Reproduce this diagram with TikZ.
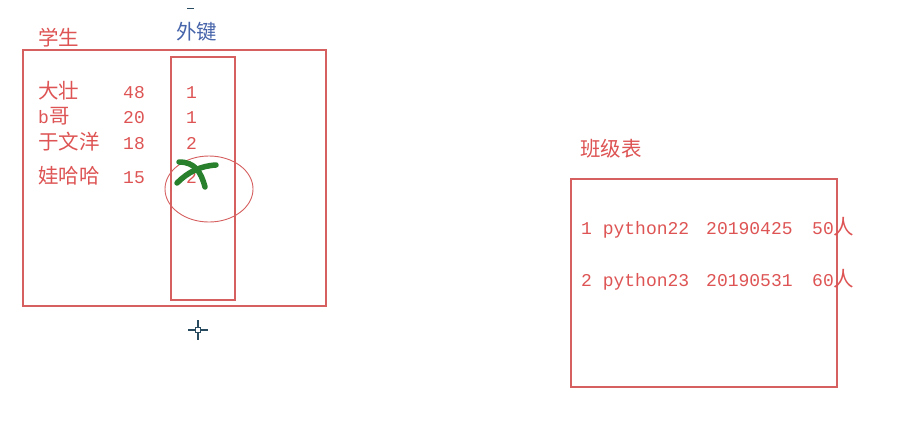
\documentclass[tikz,border=0pt]{standalone}
\usepackage{fontspec}
\setmainfont{Liberation Mono}
\newfontfamily\cjk{Noto Sans CJK SC}
\definecolor{boxred}{RGB}{214,96,96}
\definecolor{txtred}{RGB}{222,84,84}
\definecolor{fkblue}{RGB}{70,100,170}
\definecolor{xgreen}{RGB}{40,128,45}
\definecolor{cursor}{RGB}{40,75,95}
\begin{document}
\begin{tikzpicture}[x=1pt,y=-1pt,
  frame/.style={draw=boxred,line width=1.2pt},
  lbl/.style={anchor=base west,inner sep=0pt,text=txtred,font=\fontsize{18}{20}\selectfont},
  cj/.style={lbl,font=\fontsize{20.5}{22}\selectfont\cjk}]
\useasboundingbox[fill=white] (0,0) rectangle (920,424);
% student table
\draw[frame] (23,50) rectangle (326,306);
\draw[frame] (171,57) rectangle (235,300);
\node[cj] (ttl1) at (38,45) {学生};
\node[cj,text=fkblue] (fk) at (176,39) {外键};
\draw[cursor,line width=1pt] (187,8) -- (194,8);
\node[cj] (n1) at (38,98) {大壮};
\node[lbl] (a1) at (123,98) {48};
\node[lbl] (f1) at (186,98) {1};
\node[lbl] (n2) at (38,123) {b{\cjk\fontsize{20.5}{22}\selectfont 哥}};
\node[lbl] (a2) at (123,123) {20};
\node[lbl] (f2) at (186,123) {1};
\node[cj] (n3) at (38,149) {于文洋};
\node[lbl] (a3) at (123,149) {18};
\node[lbl] (f3) at (186,149) {2};
\node[cj] (n4) at (38,183) {娃哈哈};
\node[lbl] (a4) at (123,183) {15};
\node[lbl] (f4) at (186,183) {2};
\draw[boxred,line width=0.9pt] (209,189) ellipse [x radius=44, y radius=33];
\draw[xgreen,line width=5.5pt,line cap=round] (179,162) .. controls (195,162) and (201,172) .. (205,187);
\draw[xgreen,line width=5.5pt,line cap=round] (216,165) .. controls (200,166) and (188,172) .. (177,183);
% cursor
\draw[cursor,line width=1.2pt] (188,330) -- (195.5,330) (200.5,330) -- (208,330)
  (198,320) -- (198,327.5) (198,332.5) -- (198,340);
\draw[cursor,line width=1pt] (195.5,327.5) rectangle (200.5,332.5);
% class table
\node[cj] (ttl2) at (580,156) {班级表};
\draw[frame] (571,179) rectangle (837,387);
\node[lbl] (c1) at (581,234) {1 python22};
\node[lbl] (d1) at (706,234) {20190425};
\node[lbl] (p1) at (812,234) {50{\cjk\fontsize{20.5}{22}\selectfont 人}};
\node[lbl] (c2) at (581,286) {2 python23};
\node[lbl] (d2) at (706,286) {20190531};
\node[lbl] (p2) at (812,286) {60{\cjk\fontsize{20.5}{22}\selectfont 人}};
\end{tikzpicture}
\end{document}
